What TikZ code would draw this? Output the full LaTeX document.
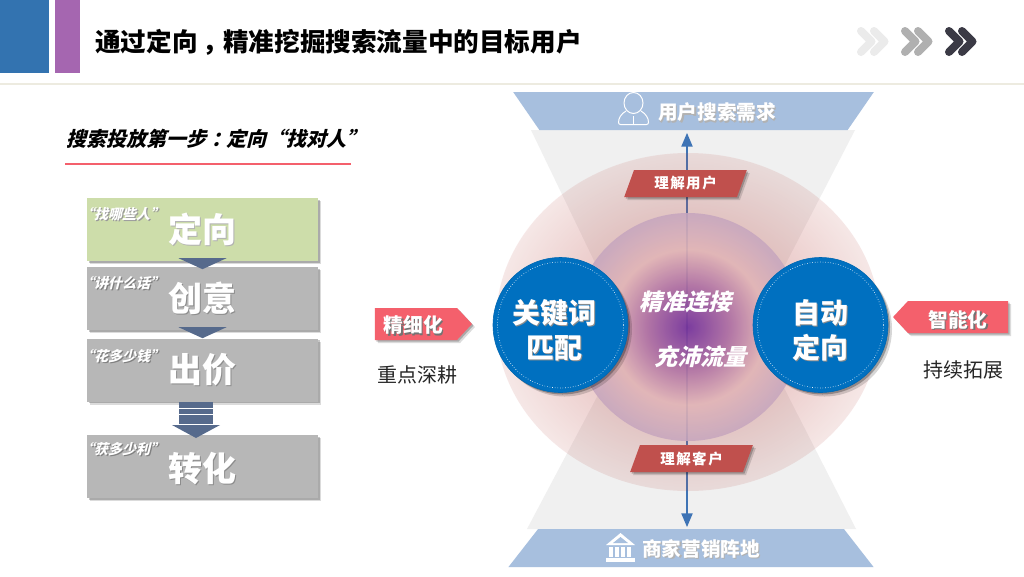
\documentclass[tikz,border=0pt]{standalone}
\usepackage{fontspec}
\setmainfont{Noto Sans CJK SC}
\newfontfamily\skewfont{Noto Sans CJK SC}[FakeSlant=0.25]
\usetikzlibrary{arrows,shapes,shadows,positioning,fadings}
\definecolor{barblue}{HTML}{3373B0}
\definecolor{barpurple}{HTML}{A566B0}
\definecolor{rulecream}{HTML}{EDEBE0}
\definecolor{tagred}{HTML}{F4606C}
\definecolor{stepgreen}{HTML}{CDDDAA}
\definecolor{stepgray}{HTML}{B7B7B7}
\definecolor{tipslate}{HTML}{566A8C}
\definecolor{bannerblue}{HTML}{A7BFDE}
\definecolor{wedgegray}{HTML}{F0F0F0}
\definecolor{ringblue}{HTML}{0070C0}
\definecolor{brickred}{HTML}{C0504D}
\definecolor{arrowblue}{HTML}{3F74B5}
\definecolor{chevdark}{HTML}{3B3A45}
\definecolor{glowA}{HTML}{7030A0}
\definecolor{glowB}{HTML}{AC6EA5}
\definecolor{glowC}{HTML}{E2B6B8}
\definecolor{glowD}{HTML}{C6A6BE}
\pgfdeclareradialshading{innerglow}{\pgfpoint{0bp}{0bp}}{%
  color(0bp)=(glowA);
  color(9bp)=(glowB);
  color(17bp)=(glowC);
  color(25bp)=(glowD);
  color(50bp)=(glowD)}
\tikzfading[name=pinkfade, inner color=transparent!55, outer color=transparent!100]
\tikzset{
  softshadow/.style={
    drop shadow={shadow xshift=3pt, shadow yshift=-3pt, opacity=.14, fill=black},
    drop shadow={shadow xshift=1.5pt, shadow yshift=-1.5pt, opacity=.22, fill=black}},
  stepbox/.style={rectangle, fill=stepgray, minimum width=231pt, minimum height=63pt, inner sep=0pt,
    text=white, font=\fontsize{34}{36}\selectfont\bfseries, softshadow},
  steptag/.style={anchor=west, inner sep=0pt, text=white, font=\fontsize{14}{16}\selectfont\skewfont\bfseries},
  banner/.style={trapezium, trapezium stretches=true, fill=bannerblue, inner sep=0pt, minimum height=38pt,
    text=white, font=\fontsize{19.6}{22}\selectfont\bfseries},
  slantbox/.style={trapezium, trapezium stretches=true, trapezium left angle=67, trapezium right angle=113,
    fill=brickred, inner sep=0pt, minimum width=123pt, minimum height=27pt,
    text=white, font=\fontsize{14.5}{16}\selectfont\bfseries, softshadow},
  ringnode/.style={circle, fill=ringblue, draw=ringblue!92!black, line width=.6pt, minimum size=135pt, inner sep=0pt,
    align=center, text=white, font=\fontsize{28}{34}\selectfont\bfseries,
    drop shadow={shadow xshift=4pt, shadow yshift=-4pt, opacity=.16, fill=black},
    drop shadow={shadow xshift=2pt, shadow yshift=-2pt, opacity=.28, fill=black}},
  flagnode/.style={signal, fill=tagred, inner sep=0pt, minimum height=32pt,
    signal pointer angle=94, text=white, font=\fontsize{19.7}{22}\selectfont\bfseries, softshadow},
  glowtext/.style={inner sep=0pt, text=white, font=\fontsize{23}{26}\selectfont\skewfont\bfseries},
  plaintext/.style={inner sep=0pt, text=black!85, font=\fontsize{20}{24}\selectfont},
  chevron/.style={line width=8pt, line cap=round, line join=round}
}
\newcommand{\lifted}[2][black!45]{\leavevmode\rlap{\kern1.2pt\raisebox{-1.2pt}{\textcolor{#1}{#2}}}#2}
\newcommand{\quoted}[1]{\kern-.5em “#1”\kern-.5em}
\newcommand{\flowtip}[1]{\fill[tipslate] ([shift={(-24,-3)}]#1) -- ([shift={(24,-3)}]#1) -- ([shift={(0,8)}]#1) -- cycle;}
\newcommand{\doublechevron}[2]{
  \draw[chevron, #2] (#1,31) -- (#1+10.5,41.5) -- (#1,52);
  \draw[chevron, #2] (#1+13,31) -- (#1+23.5,41.5) -- (#1+13,52);}

\begin{document}
\begin{tikzpicture}[x=1pt, y=-1pt, node distance=69pt]
  \useasboundingbox (0,0) rectangle (1024,576);
  \fill[white] (0,0) rectangle (1024,576);

  % header
  \fill[barblue] (0,0) rectangle (49,73);
  \fill[barpurple] (55,0) rectangle (80,73);
  \draw[rulecream, line width=1.3pt] (0,84) -- (1024,84);
  \node[anchor=west, inner sep=0pt, font=\fontsize{25.6}{28}\selectfont\bfseries] (title) at (95,42)
    {通过定向\kern5pt，\kern-5pt 精准挖掘搜索流量中的目标用户};
  \doublechevron{861}{black!8}
  \doublechevron{905}{black!31}
  \doublechevron{949}{chevdark}

  % left column
  \node[anchor=west, inner sep=0pt, font=\fontsize{20}{24}\selectfont\skewfont\bfseries] (subtitle) at (66,139)
    {搜索投放第一步\kern5pt：\kern-5pt 定向“找对人”};
  \coordinate (subA) at (65,164);
  \coordinate (subB) at (351,164);
  \draw[tagred, line width=2pt] (subA) -- (subB);

  \node[stepbox, fill=stepgreen] (target) at (202.5,229.5) {\lifted[black!30]{定向}};
  \node[stepbox] (creative) [below of = target] {\lifted{创意}};
  \node[stepbox] (bid) [below of = creative, node distance=71.5pt] {\lifted{出价}};
  \node[stepbox] (convert) [below of = bid, node distance=96.5pt] {\rule{0pt}{34pt}\lifted{转化}};

  \flowtip{target.south}
  \flowtip{creative.south}
  \fill[tipslate] (179,402) rectangle (213,407.7);
  \fill[tipslate] (179,408.6) rectangle (213,413.7);
  \fill[tipslate] (179,414.6) rectangle (213,424);
  \fill[tipslate] (172,425) -- (220,425) -- (196,438) -- cycle;

  \node[steptag] (tagA) at (87,214.5) {\lifted[black!40]{\quoted{找哪些人}}};
  \node[steptag] (tagB) at (87,283.5) {\lifted[black!50]{\quoted{讲什么话}}};
  \node[steptag] (tagC) at (87,356.5) {\lifted[black!50]{\quoted{花多少钱}}};
  \node[steptag] (tagD) at (87,449.5) {\lifted[black!50]{\quoted{获多少利}}};

  % hourglass
  \fill[wedgegray] (531,130) -- (855,130) -- (753,327) -- (856,529) -- (527,529) -- (634,327) -- (626,327) -- cycle;
  \coordinate (arrowTop) at (687,133);
  \coordinate (arrowBottom) at (687,527);
  \draw[triangle 45-triangle 45, color=arrowblue, line width=2.2pt] (arrowTop) -- (arrowBottom);

  % rings
  \fill[brickred, opacity=.13] (688,322) ellipse (192 and 169);
  \fill[brickred, path fading=pinkfade] (688,322) ellipse (192 and 169);
  \shade[shading=innerglow, opacity=.88] (688,327) circle (114pt);

  \node[banner, shape border rotate=180, minimum width=361pt] (demand) at (693.5,111) {\hspace*{47pt}\rule{0pt}{21pt}\lifted[black!30]{用户搜索需求}};
  \node[banner, minimum width=366pt] (shop) at (691,548) {\hspace*{20pt}\rule{0pt}{20pt}\lifted[black!30]{商家营销阵地}};

  % person icon
  \draw[white, line width=1pt] (633.5,103) ellipse (9.5 and 10.5);
  \draw[white, line width=1pt, rounded corners=2pt] (626,111) .. controls (621,114) and (618.5,118) .. (618.5,124.5) -- (648.5,124.5) .. controls (648.5,118) and (646,114) .. (641,111);
  \draw[white, line width=1.6pt] (633.5,116) -- (633.5,124);
  % bank icon
  \fill[white] (620.5,533) -- (635,545) -- (606,545) -- cycle;
  \fill[bannerblue] (620.5,537) -- (628,543) -- (613,543) -- cycle;
  \foreach \xbar in {609,615,621,627}
    \fill[white] (\xbar,547) rectangle (\xbar+3.5,557);
  \fill[white] (606,558) rectangle (635,562);

  \node[slantbox] (knowUser) at (685.5,183.5) {理\kern1.5pt 解\kern1.5pt 用\kern1.5pt 户};
  \node[slantbox] (knowShop) at (691.5,458.5) {理\kern1.5pt 解\kern1.5pt 客\kern1.5pt 户};

  \node[ringnode] (keyword) at (560.5,325) {\rule{0pt}{36pt}\hspace*{-13pt}\lifted[black!45]{关键词}\\[1pt]\hspace*{-13pt}\lifted[black!45]{匹配}};
  \node[ringnode] (auto) at (820.5,325) {\rule{0pt}{36pt}\lifted[black!45]{自动}\\[1pt]\lifted[black!45]{定向}};
  \draw[white, dotted, line width=.6pt] (keyword.center) circle (63pt);
  \draw[white, dotted, line width=.6pt] (auto.center) circle (63pt);

  \node[glowtext] (linkText) at (685,302) {精准连接};
  \node[glowtext] (flowText) at (700.5,357) {充沛流量};

  % side flags
  \node[flagnode, signal to=east, minimum width=97pt] (refine) at (416,324) {\hspace*{-5pt}\rule{0pt}{21pt}\lifted[black!55]{精细化}};
  \node[flagnode, signal to=west, minimum width=115pt] (smart) at (958,317) {\rule{0pt}{24pt}\lifted[black!55]{智能化}};
  \node[plaintext] (deepen) at (417,375) {重点深耕};
  \node[plaintext] (expand) at (963.5,370) {持续拓展};
\end{tikzpicture}
\end{document}
